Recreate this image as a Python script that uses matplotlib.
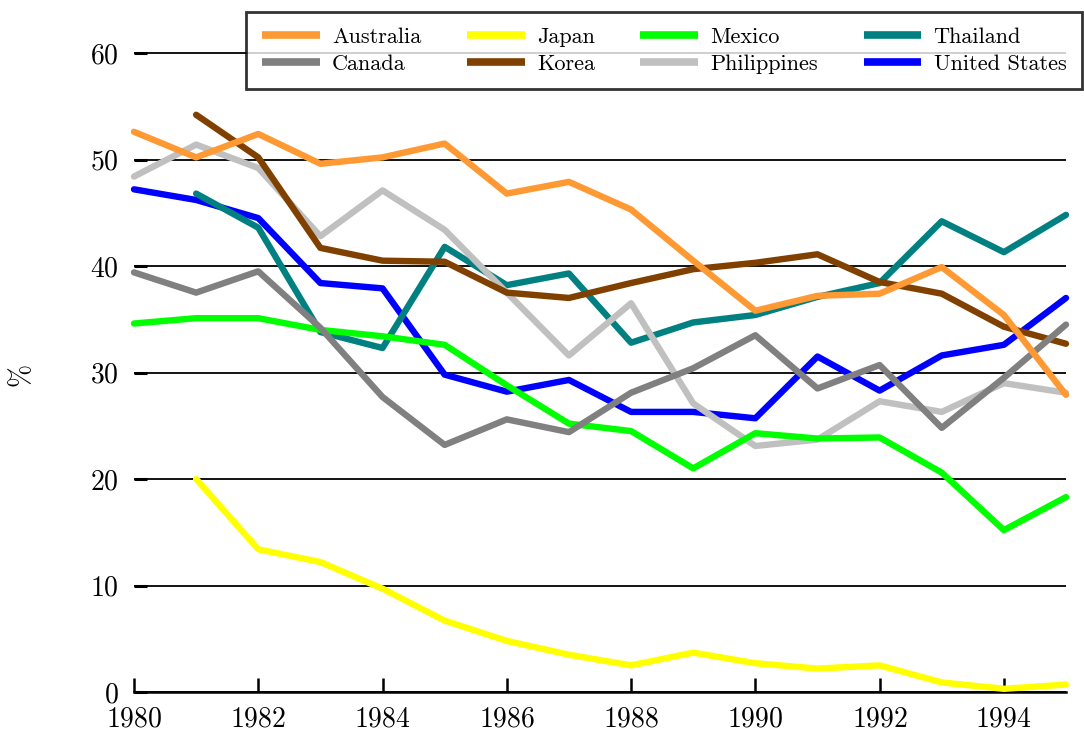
import matplotlib
matplotlib.use("Agg")
import matplotlib.pyplot as plt

plt.rcParams['font.family'] = ['cmr10', 'DejaVu Serif']
plt.rcParams['axes.formatter.use_mathtext'] = True

years = list(range(1980, 1996))
years_81 = list(range(1981, 1996))

countries = ['Australia', 'Canada', 'Japan', 'Korea', 'Mexico',
             'Philippines', 'Thailand', 'United States']
colors = ['#ff9933', '#808080', '#ffff00', '#804000', '#00ff00',
          '#c0c0c0', '#008080', '#0000ff']

australia = [52.6, 50.2, 52.4, 49.6, 50.2, 51.5, 46.8, 47.9, 45.3, 40.5,
             35.8, 37.2, 37.4, 39.9, 35.4, 27.9]
canada = [39.4, 37.5, 39.5, 34.2, 27.7, 23.2, 25.6, 24.4, 28.1, 30.4,
          33.5, 28.5, 30.7, 24.8, 29.5, 34.5]
japan = [20.0, 13.4, 12.2, 9.7, 6.7, 4.8, 3.5, 2.5, 3.7, 2.7,
         2.2, 2.5, 0.9, 0.3, 0.7]
korea = [54.2, 50.2, 41.7, 40.5, 40.4, 37.5, 37.0, 38.4, 39.7, 40.3,
         41.1, 38.5, 37.4, 34.3, 32.7]
mexico = [34.6, 35.1, 35.1, 34.0, 33.4, 32.6, 28.8, 25.2, 24.5, 21.0,
          24.3, 23.8, 23.9, 20.6, 15.2, 18.3]
philippines = [48.4, 51.4, 49.2, 42.8, 47.1, 43.4, 37.5, 31.6, 36.5, 27.1,
               23.1, 23.7, 27.3, 26.3, 29.0, 28.1]
thailand = [46.8, 43.6, 33.8, 32.3, 41.8, 38.2, 39.3, 32.8, 34.7, 35.4,
            37.1, 38.4, 44.2, 41.3, 44.8]
united_states = [47.2, 46.2, 44.5, 38.4, 37.9, 29.8, 28.2, 29.3, 26.3, 26.3,
                 25.7, 31.5, 28.3, 31.6, 32.6, 37.0]

series = [(years, australia), (years, canada), (years_81, japan),
          (years_81, korea), (years, mexico), (years, philippines),
          (years_81, thailand), (years, united_states)]

fig = plt.figure(figsize=(10.84, 7.35), dpi=100)
ax = fig.add_axes([0.1236, 0.0585, 0.8598, 0.9201])

# earlier countries drawn on top, as in the original
n = len(countries)
for i, (name, col, (xs, ys)) in enumerate(zip(countries, colors, series)):
    ax.plot(xs, ys, color=col, lw=4.6, label=name, zorder=10 + n - i,
            solid_capstyle='round', solid_joinstyle='round', clip_on=False)

ax.set_xlim(1980, 1995)
ax.set_ylim(0, 63.5)
ax.set_xticks(range(1980, 1995, 2))
ax.set_yticks(range(0, 61, 10))
ax.yaxis.grid(True, color='black', lw=1.3)
ax.set_axisbelow(True)

for s in ['top', 'right', 'left']:
    ax.spines[s].set_visible(False)
ax.spines['bottom'].set_linewidth(1.8)

ax.tick_params(axis='x', direction='in', length=10, width=1.8, pad=10,
               labelsize=20)
ax.tick_params(axis='y', direction='in', length=9.5, width=2.2, pad=11,
               labelsize=20)
ax.set_ylabel('%', fontsize=20)
ax.yaxis.set_label_coords(-0.107, 0.47)

leg = fig.legend(loc='upper right', bbox_to_anchor=(0.998, 0.984), ncol=4,
                 fontsize=16, frameon=True, fancybox=False,
                 handlelength=2.6, handletextpad=0.55, columnspacing=2.05,
                 labelspacing=0.33, borderpad=0.7, borderaxespad=0)
leg.get_frame().set_edgecolor('black')
leg.get_frame().set_linewidth(2)
leg.set_zorder(100)
for h in leg.get_lines():
    h.set_linewidth(5.5)
    h.set_solid_capstyle('butt')

fig.savefig('out.png', dpi=100)
